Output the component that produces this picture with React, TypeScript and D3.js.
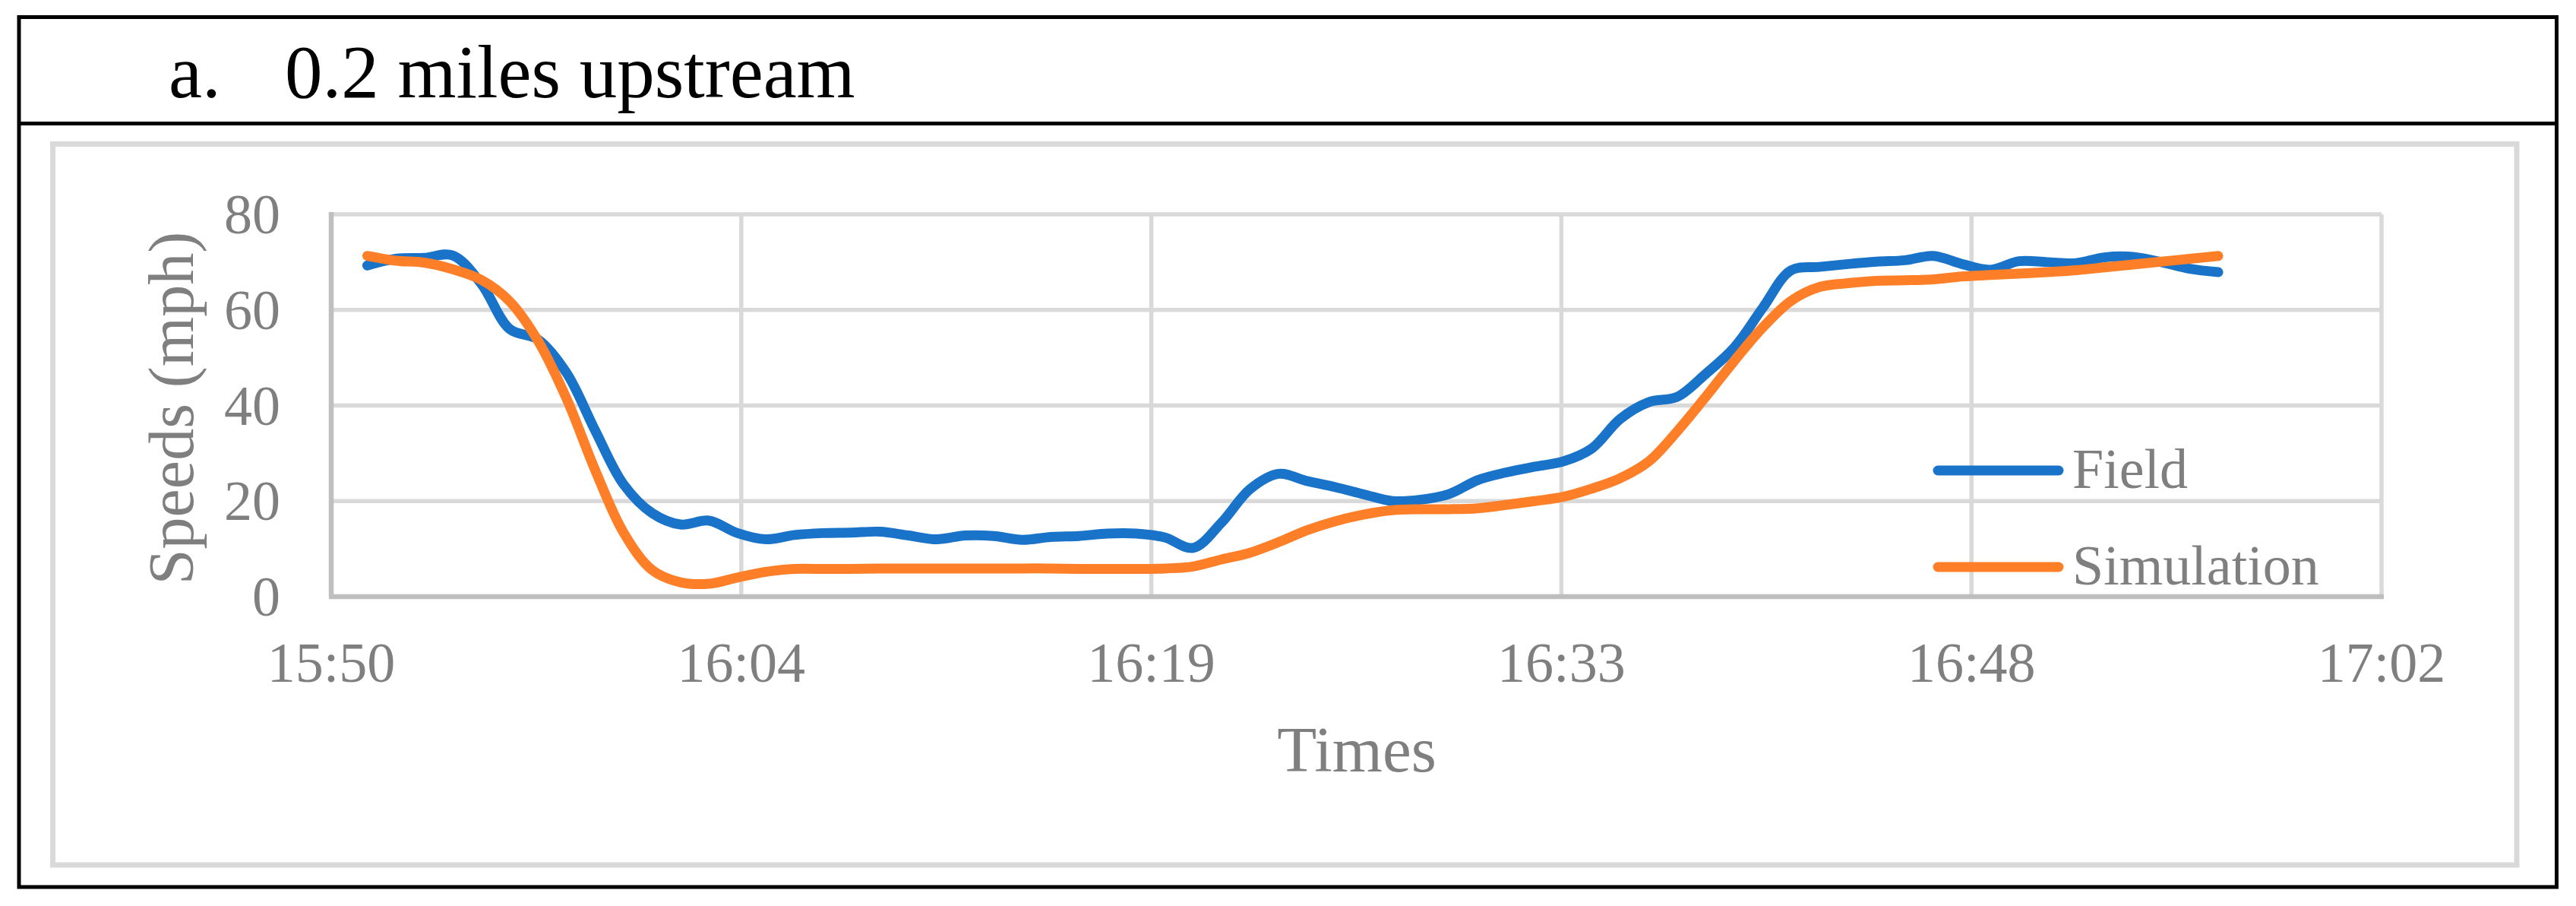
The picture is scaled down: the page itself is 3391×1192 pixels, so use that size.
import * as d3 from "d3";

// chart data (one sample per minute)
const times = [
  "15:51:40", "15:52:40", "15:53:40", "15:54:40", "15:55:40", "15:56:40", "15:57:40", "15:58:40", "15:59:40", "16:00:40",
  "16:01:40", "16:02:40", "16:03:40", "16:04:40", "16:05:40", "16:06:40", "16:07:40", "16:08:40", "16:09:40", "16:10:40",
  "16:11:40", "16:12:40", "16:13:40", "16:14:40", "16:15:40", "16:16:40", "16:17:40", "16:18:40", "16:19:40", "16:20:40",
  "16:21:40", "16:22:40", "16:23:40", "16:24:40", "16:25:40", "16:26:40", "16:27:40", "16:28:40", "16:29:40", "16:30:40",
  "16:31:40", "16:32:40", "16:33:40", "16:34:40", "16:35:40", "16:36:40", "16:37:40", "16:38:40", "16:39:40", "16:40:40",
  "16:41:40", "16:42:40", "16:43:40", "16:44:40", "16:45:40", "16:46:40", "16:47:40", "16:48:40", "16:49:40", "16:50:40",
  "16:51:40", "16:52:40", "16:53:40", "16:54:40", "16:55:40", "16:56:40"
];

const field = [
  69.3, 70.7, 70.9, 71.4, 65.5, 56.0, 53.8, 46.8, 34.8, 23.5,
  17.5, 15.1, 15.9, 13.3, 12.0, 12.9, 13.3, 13.4, 13.6, 12.8,
  12.0, 12.8, 12.7, 11.9, 12.5, 12.7, 13.2, 13.2, 12.4, 10.2,
  15.5, 22.5, 25.7, 24.2, 22.9, 21.4, 20.0, 20.3, 21.5, 24.4,
  26.0, 27.2, 28.3, 31.0, 37.2, 40.7, 41.8, 46.6, 52.1, 60.4,
  68.3, 69.0, 69.6, 70.1, 70.4, 71.3, 69.6, 68.4, 70.2, 70.0,
  69.8, 71.0, 71.1, 70.0, 68.6, 67.9
];

const simulation = [
  71.3, 70.3, 69.9, 68.5, 66.3, 61.8, 53.5, 41.4, 26.5, 13.4,
  5.6, 3.0, 2.7, 4.0, 5.2, 5.8, 5.8, 5.8, 5.9, 5.9,
  5.9, 5.9, 5.9, 5.9, 5.9, 5.8, 5.8, 5.8, 5.9, 6.3,
  7.8, 9.2, 11.4, 13.9, 15.8, 17.2, 18.1, 18.3, 18.3, 18.5,
  19.2, 20.0, 20.9, 22.6, 24.8, 28.3, 34.6, 41.8, 49.3, 56.3,
  61.9, 64.8, 65.6, 66.1, 66.2, 66.4, 67.0, 67.3, 67.6, 67.9,
  68.3, 68.9, 69.5, 70.1, 70.7, 71.3
];

// x axis runs in fractions of a day, like the spreadsheet it came from
const xTickDays = [0.66, 0.67, 0.68, 0.69, 0.70, 0.71];
const xTickLabels = ["15:50", "16:04", "16:19", "16:33", "16:48", "17:02"];
const yTicks = [0, 20, 40, 60, 80];

const seriesNames = ["Field", "Simulation"];
const seriesColors = ["#1873c9", "#fe7f27"];

const W = 3391;
const H = 1192;
const FONT = "'Liberation Serif', 'Times New Roman', Times, serif";
const GRAY = "#7f7f7f";

function toMinutes(t: string) {
  const p = t.split(":").map(Number);
  return p[0] * 60 + p[1] + (p[2] || 0) / 60;
}

export default function App() {
  const x = d3.scaleLinear().domain([0.66 * 1440, 0.71 * 1440]).range([436, 3135]);
  const y = d3.scaleLinear().domain([0, 80]).range([785, 282]);

  const mins = times.map(toMinutes);
  const line = d3.line<number>()
    .x((d, i) => x(mins[i]))
    .y((d) => y(d))
    .curve(d3.curveCatmullRom.alpha(0.5));

  const series = [field, simulation];

  return (
    <div style={{ position: "absolute", left: 0, top: 0 }}>
      <svg width={W} height={H} style={{ display: "block", background: "#fff" }}>
        {/* outer frame + title */}
        <rect x={25} y={22.5} width={3340.5} height={1144.5} fill="none" stroke="#000" strokeWidth={5} />
        <line x1={23} x2={3368} y1={162.5} y2={162.5} stroke="#000" strokeWidth={5} />
        <text x={222} y={128} fontFamily={FONT} fontSize={99} fill="#000">a.</text>
        <text x={375} y={128} fontFamily={FONT} fontSize={99} fill="#000">0.2 miles upstream</text>

        {/* chart area border */}
        <rect x={69.5} y={189.5} width={3243.5} height={948.5} fill="none" stroke="#d9d9d9" strokeWidth={7} />

        {/* grid */}
        {yTicks.filter((t) => t > 0).map((t) => (
          <line key={"gy" + t} x1={x.range()[0]} x2={x.range()[1]} y1={y(t)} y2={y(t)} stroke="#d9d9d9" strokeWidth={5.5} />
        ))}
        {xTickDays.slice(1).map((d) => (
          <line key={"gx" + d} x1={x(d * 1440)} x2={x(d * 1440)} y1={y(80)} y2={y(0)} stroke="#d9d9d9" strokeWidth={5.5} />
        ))}
        {/* axis lines */}
        <line x1={x.range()[0]} x2={x.range()[0]} y1={y(80) - 3} y2={y(0)} stroke="#bfbfbf" strokeWidth={6.5} />
        <line x1={x.range()[0] - 3} x2={x.range()[1] + 3} y1={y(0)} y2={y(0)} stroke="#bfbfbf" strokeWidth={6.5} />

        {/* tick labels */}
        {yTicks.map((t) => (
          <text key={"ty" + t} x={369} y={y(t) + 25} textAnchor="end" fontFamily={FONT} fontSize={74} fill={GRAY}>{t}</text>
        ))}
        {xTickDays.map((d, i) => (
          <text key={"tx" + d} x={x(d * 1440)} y={897} textAnchor="middle" fontFamily={FONT} fontSize={74} fill={GRAY}>{xTickLabels[i]}</text>
        ))}

        {/* axis titles */}
        <text x={1786} y={1015} textAnchor="middle" fontFamily={FONT} fontSize={85} fill={GRAY}>Times</text>
        <text transform="translate(254,537) rotate(-90)" textAnchor="middle" fontFamily={FONT} fontSize={84} fill={GRAY}>Speeds (mph)</text>

        {/* series */}
        {series.map((s, i) => (
          <path key={seriesNames[i]} d={line(s) || ""} fill="none" stroke={seriesColors[i]} strokeWidth={13} strokeLinecap="round" strokeLinejoin="round" />
        ))}

        {/* legend */}
        {seriesNames.map((n, i) => (
          <g key={"lg" + n} transform={`translate(0,${619 + i * 127})`}>
            <line x1={2551} x2={2710} y1={0} y2={0} stroke={seriesColors[i]} strokeWidth={13} strokeLinecap="round" />
            <text x={2728} y={23} fontFamily={FONT} fontSize={74} fill={GRAY}>{n}</text>
          </g>
        ))}
      </svg>
    </div>
  );
}
